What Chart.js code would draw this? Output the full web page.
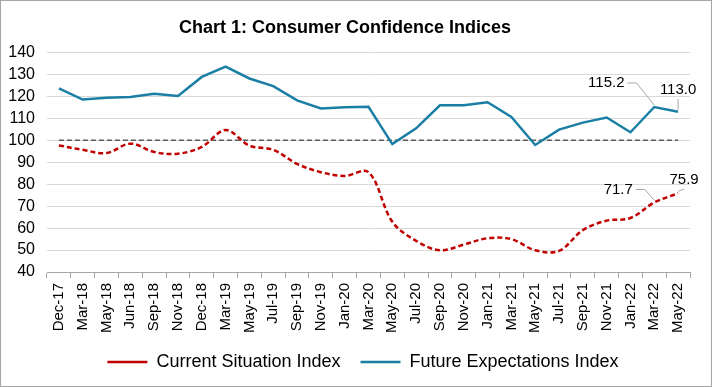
<!DOCTYPE html>
<html>
<head>
<meta charset="utf-8">
<script src="https://cdn.jsdelivr.net/npm/chart.js@4/dist/chart.umd.min.js"></script>
<style>
  html, body { margin: 0; padding: 0; background: #fff; }
  #wrap { width: 712px; height: 387px; }
</style>
</head>
<body>
<div id="wrap"><canvas id="myChart" width="712" height="387"></canvas></div>
<script>
const months = ['Dec-17','Mar-18','May-18','Jun-18','Sep-18','Nov-18','Dec-18','Mar-19','May-19','Jul-19',
  'Sep-19','Nov-19','Jan-20','Mar-20','May-20','Jul-20','Sep-20','Nov-20','Jan-21','Mar-21',
  'May-21','Jul-21','Sep-21','Nov-21','Jan-22','Mar-22','May-22'];

const currentSituation = [97.7, 95.7, 94.2, 98.5, 94.7, 93.9, 97.0, 104.7, 97.6, 95.7,
  89.3, 85.5, 83.8, 85.5, 62.9, 54.2, 49.9, 52.5, 55.4, 55.0,
  49.9, 49.6, 59.1, 63.4, 64.6, 71.7, 75.9];

const futureExpectations = [123.7, 118.6, 119.4, 119.8, 121.2, 120.2, 128.9, 133.6, 128.2, 124.7,
  118.2, 114.5, 115.1, 115.3, 98.3, 105.5, 116.0, 116.0, 117.4, 110.7,
  97.9, 104.9, 108.1, 110.4, 103.7, 115.2, 113.0];

const neutralLine = months.map(() => 100);

const yTicks = [40, 50, 60, 70, 80, 90, 100, 110, 120, 130, 140];

// which points get a value label: [dataset index, point index, dx, dy]
const labelled = [
  [1, 25, -48, -24],
  [1, 26, 0, -22],
  [0, 25, -36, -13],
  [0, 26, 6, -13]
];

const FONT = "'Liberation Sans', Arial, sans-serif";

const borderPlugin = {
  id: 'outerBorder',
  afterLayout(chart) {
    // legend sits a little right of centre in the original
    chart.legend.left += 18;
    chart.legend.right += 18;
  },
  afterDraw(chart) {
    const ctx = chart.ctx;
    ctx.save();
    ctx.strokeStyle = '#a6a6a6';
    ctx.lineWidth = 1;
    ctx.strokeRect(0.5, 0.5, chart.width - 1, chart.height - 1);
    ctx.restore();
  }
};

const labelPlugin = {
  id: 'valueLabels',
  afterDatasetsDraw(chart) {
    const ctx = chart.ctx;
    ctx.save();
    ctx.font = '15px ' + FONT;
    ctx.fillStyle = '#000';
    labelled.forEach(([ds, i, dx, dy]) => {
      const pt = chart.getDatasetMeta(ds).data[i];
      const val = chart.data.datasets[ds].data[i].toFixed(1);
      const tx = pt.x + dx, ty = pt.y + dy;
      ctx.textAlign = 'center';
      ctx.textBaseline = 'middle';
      ctx.fillText(val, tx, ty);
      // leader line
      ctx.strokeStyle = '#a6a6a6';
      ctx.lineWidth = 1;
      ctx.beginPath();
      if (dx < 0) {
        const w = ctx.measureText(val).width;
        ctx.moveTo(tx + w / 2 + 3, ty);
        ctx.lineTo(tx + w / 2 + 12, ty);
        ctx.lineTo(pt.x, pt.y - 2);
      } else {
        ctx.moveTo(tx, ty + 9);
        ctx.lineTo(pt.x, pt.y - 2);
      }
      ctx.stroke();
    });
    ctx.restore();
  }
};

const ctx = document.getElementById('myChart').getContext('2d');
const myChart = new Chart(ctx, {
  type: 'line',
  data: {
    labels: months,
    datasets: [{
      label: 'Current Situation Index',
      data: currentSituation,
      borderColor: '#c00000',
      backgroundColor: '#c00000',
      borderWidth: 2.5,
      borderDash: [5, 3],
      pointRadius: 0,
      tension: 0.35
    }, {
      label: 'Future Expectations Index',
      data: futureExpectations,
      borderColor: '#1b7fa5',
      backgroundColor: '#1b7fa5',
      borderWidth: 2.5,
      pointRadius: 0,
      tension: 0
    }, {
      label: 'neutral',
      data: neutralLine,
      borderColor: '#595959',
      borderWidth: 1.5,
      borderDash: [5, 3],
      pointRadius: 0,
      tension: 0
    }]
  },
  options: {
    responsive: false,
    animation: false,
    layout: { padding: { left: 0, right: 22, top: 0, bottom: 6 } },
    plugins: {
      title: {
        display: true,
        text: 'Chart 1: Consumer Confidence Indices',
        color: '#000',
        font: { family: FONT, size: 18, weight: 'bold' },
        padding: { top: 17, bottom: 14 }
      },
      legend: {
        position: 'bottom',
        labels: {
          filter: (item) => item.text !== 'neutral',
          usePointStyle: true,
          pointStyle: 'line',
          pointStyleWidth: 40,
          boxHeight: 2,
          color: '#000',
          padding: 20,
          font: { family: FONT, size: 18 }
        }
      },
      tooltip: { enabled: false }
    },
    scales: {
      x: {
        offset: true,
        grid: { display: true, drawOnChartArea: false, drawTicks: true, tickLength: 6, offset: true, color: '#a6a6a6' },
        border: { display: true, color: '#a6a6a6' },
        ticks: {
          color: '#000',
          maxRotation: 90,
          minRotation: 90,
          autoSkip: false,
          padding: 5,
          font: { family: FONT, size: 15 }
        },
        afterFit(scale) { scale.height = 61; }
      },
      y: {
        min: 40,
        max: 140,
        afterBuildTicks(scale) { scale.ticks = yTicks.map(v => ({ value: v })); },
        grid: { color: '#d9d9d9', drawTicks: false },
        border: { display: false },
        ticks: {
          stepSize: 10,
          autoSkip: false,
          color: '#000',
          padding: 12,
          font: { family: FONT, size: 16 }
        },
        afterFit(scale) { scale.width = 47; }
      }
    }
  },
  plugins: [borderPlugin, labelPlugin]
});
</script>
</body>
</html>
